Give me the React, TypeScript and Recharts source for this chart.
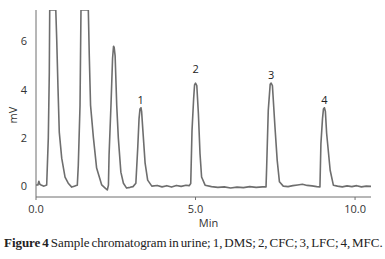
import React from 'react';
import { LineChart, Line, XAxis, YAxis, ReferenceDot } from 'recharts';

// retention time (min) and detector signal (mV)
const timeMin = [
  0.0, 0.06, 0.09, 0.12, 0.16, 0.25, 0.335, 0.386, 0.417, 0.43, 0.62, 0.649, 0.69, 0.73, 0.806, 0.91, 1.01, 1.12, 1.2, 1.28,
  1.295, 1.326, 1.38, 1.41, 1.42, 1.64, 1.67, 1.71, 1.8, 1.9, 2.06, 2.16, 2.235,
  2.27, 2.29, 2.35, 2.4, 2.43, 2.45, 2.48, 2.53, 2.58, 2.66, 2.74, 2.84, 2.95, 3.04,
  3.13, 3.19, 3.23, 3.26, 3.29, 3.31, 3.35, 3.42, 3.5, 3.63, 3.8, 3.95, 4.1, 4.25, 4.4, 4.55, 4.7, 4.8,
  4.85, 4.89, 4.94, 4.97, 5.0, 5.04, 5.09, 5.14, 5.19, 5.3, 5.5, 5.7, 5.9, 6.1, 6.3, 6.5, 6.7, 6.9, 7.1, 7.21,
  7.23, 7.28, 7.34, 7.37, 7.41, 7.49, 7.56, 7.63, 7.75, 7.9, 8.05, 8.2, 8.35, 8.5, 8.65, 8.8, 8.9,
  8.93, 8.98, 9.01, 9.04, 9.07, 9.11, 9.22, 9.32, 9.45, 9.6, 9.75, 9.9, 10.05, 10.2, 10.35, 10.5,
];
const signalMv = [
  0.05, 0.05, 0.2, 0.08, 0.05, 0.0, 0.05, 2.0, 4.7, 7.3, 7.3, 6.1, 4.05, 2.23, 1.16, 0.37, 0.12, -0.04, 0.0, 0.04,
  0.04, 0.87, 3.35, 7.3, 7.3, 7.3, 5.4, 3.35, 2.0, 0.75, 0.05, -0.07, -0.16,
  0.04, 1.28, 3.35, 5.3, 5.8, 5.75, 5.4, 3.35, 2.0, 0.58, 0.12, -0.08, -0.05, -0.02,
  0.12, 1.62, 2.8, 3.2, 3.25, 3.1, 2.31, 0.95, 0.25, 0.0, 0.03, -0.03, 0.02, -0.04, 0.03, -0.01, 0.04, 0.02,
  0.11, 2.31, 3.6, 4.2, 4.27, 4.17, 3.0, 1.36, 0.38, 0.04, -0.02, -0.05, -0.03, -0.08, -0.04, -0.06, -0.02, -0.05, -0.03, -0.03,
  0.8, 3.14, 4.22, 4.27, 4.17, 2.45, 1.07, 0.18, 0.0, -0.02, 0.02, 0.05, 0.08, 0.03, 0.01, -0.02, -0.03,
  1.76, 2.8, 3.2, 3.25, 3.1, 2.18, 0.66, 0.04, 0.0, -0.03, 0.01, -0.02, 0.02, -0.03, 0.0, -0.01,
];

const xTicks = [0, 5, 10];
const yTicks = [0, 2, 4, 6];

// peak number, apex time, apex height
const peakNames = ['1', '2', '3', '4'];
const peakTimes = [3.28, 5.0, 7.37, 9.04];
const peakHeights = [3.25, 4.27, 4.27, 3.25];

const trace = timeMin.map((t, i) => ({ t, mv: signalMv[i] }));

const axisColor = '#6f6f6f';
const tickFont = { fontSize: 11, fill: '#333', fontFamily: '"Open Sans", sans-serif' };

const YLabel = () => (
  <text
    x={12}
    y={115}
    transform="rotate(-90, 12, 115)"
    textAnchor="middle"
    dominantBaseline="central"
    fontSize={11}
    fill="#333"
    fontFamily='"Open Sans", sans-serif'
  >
    mV
  </text>
);

export default function App() {
  return (
    <div style={{ position: 'absolute', left: 0, top: 0, width: 385, height: 259, background: '#fff' }}>
      <LineChart width={385} height={259} data={trace} margin={{ top: 10, right: 14, left: 0, bottom: 0 }}>
        <XAxis
          type="number"
          dataKey="t"
          domain={[0, 10.5]}
          ticks={xTicks}
          tickFormatter={(v: number) => v.toFixed(1)}
          height={62}
          tickSize={3}
          tickMargin={5}
          stroke={axisColor}
          tick={tickFont}
          label={{ value: 'Min', position: 'insideTop', offset: 22, dx: 5, ...tickFont }}
        />
        <YAxis
          type="number"
          domain={[-0.45, 7.3]}
          ticks={yTicks}
          allowDataOverflow
          width={36}
          tickLine={false}
          tickMargin={3}
          stroke={axisColor}
          tick={tickFont}
          label={<YLabel />}
        />
        <Line
          type="linear"
          dataKey="mv"
          stroke="#6e6e6e"
          strokeWidth={1.6}
          strokeLinejoin="round"
          dot={false}
          isAnimationActive={false}
        />
        {peakNames.map((name, i) => (
          <ReferenceDot
            key={name}
            x={peakTimes[i]}
            y={peakHeights[i]}
            r={0}
            stroke="none"
            label={{ value: name, position: 'top', offset: name === '2' ? 10 : 4, ...tickFont, fill: '#222' }}
          />
        ))}
      </LineChart>
      <div
        style={{
          position: 'absolute',
          left: 4,
          top: 236,
          whiteSpace: 'nowrap',
          fontFamily: '"Liberation Serif", serif',
          fontSize: 13,
          lineHeight: '13px',
          letterSpacing: -0.05,
          wordSpacing: -1.2,
          color: '#222',
        }}
      >
        <b>Figure 4</b> Sample chromatogram in urine; 1, DMS; 2, CFC; 3, LFC; 4, MFC.
      </div>
    </div>
  );
}
